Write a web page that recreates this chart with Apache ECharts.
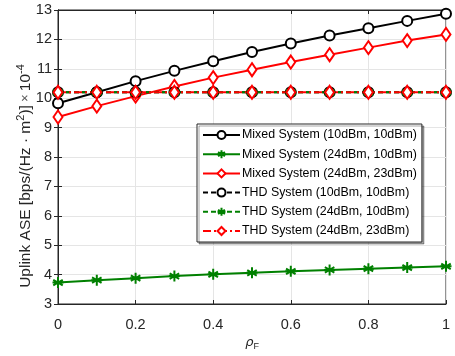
<!DOCTYPE html>
<html>
<head>
<meta charset="utf-8">
<script src="https://cdn.jsdelivr.net/npm/echarts@6/dist/echarts.min.js"></script>
<style>
  html, body { margin: 0; padding: 0; background: #fff; }
  #chart { width: 455px; height: 356px; }
</style>
</head>
<body>
<div id="chart"></div>
<script>
// rho_F values on the x axis
const rhoF = [0, 0.1, 0.2, 0.3, 0.4, 0.5, 0.6, 0.7, 0.8, 0.9, 1];

// uplink ASE (x 10^-4)
const mixed10_10 = [9.83, 10.2, 10.58, 10.93, 11.26, 11.57, 11.86, 12.13, 12.38, 12.63, 12.87];
const mixed24_10 = [3.73, 3.81, 3.88, 3.95, 4.01, 4.06, 4.11, 4.16, 4.2, 4.24, 4.28];
const mixed24_23 = [9.36, 9.73, 10.07, 10.4, 10.7, 10.97, 11.23, 11.48, 11.72, 11.96, 12.17];
const thd10_10 = [10.2, 10.2, 10.2, 10.2, 10.2, 10.2, 10.2, 10.2, 10.2, 10.2, 10.2];
const thd24_10 = [10.2, 10.2, 10.2, 10.2, 10.2, 10.2, 10.2, 10.2, 10.2, 10.2, 10.2];
const thd24_23 = [10.2, 10.2, 10.2, 10.2, 10.2, 10.2, 10.2, 10.2, 10.2, 10.2, 10.2];

const xTicks = [0, 0.2, 0.4, 0.6, 0.8, 1];
const yTicks = [3, 4, 5, 6, 7, 8, 9, 10, 11, 12, 13];

const names = [
  'Mixed System (10dBm, 10dBm)',
  'Mixed System (24dBm, 10dBm)',
  'Mixed System (24dBm, 23dBm)',
  'THD System (10dBm, 10dBm)',
  'THD System (24dBm, 10dBm)',
  'THD System (24dBm, 23dBm)'
];

const asterisk = 'path://M0,-5L0,5M-4.33,-2.5L4.33,2.5M-4.33,2.5L4.33,-2.5M-5,0L5,0';

function pairs(ys) {
  return rhoF.map((x, i) => [x, ys[i]]);
}

function makeSeries(name, ys, color, symbol, lineType, size) {
  const isStar = symbol === asterisk;
  return {
    name: name,
    type: 'line',
    data: pairs(ys),
    symbol: symbol,
    symbolSize: size,
    showSymbol: true,
    showAllSymbol: true,
    lineStyle: { color: color, width: 2, type: lineType },
    itemStyle: {
      color: color,
      borderColor: color,
      borderWidth: isStar ? 2 : 1.6
    },
    emphasis: { disabled: true },
    animation: false
  };
}

const chart = echarts.init(document.getElementById('chart'), null, { renderer: 'canvas' });

const tickColor = '#262626';
const font = 'Liberation Sans, Arial, sans-serif';
const labelFont = { color: '#262626', fontSize: 14.5, fontFamily: font };

chart.setOption({
  backgroundColor: '#fff',
  animation: false,
  grid: {
    left: 58, right: 9, top: 10, bottom: 46,
    show: true, borderColor: tickColor, borderWidth: 1
  },
  legend: {
    orient: 'vertical',
    left: 197, top: 124,
    itemWidth: 37, itemHeight: 10, itemGap: 7.2,
    padding: [5, 5, 5, 5],
    backgroundColor: '#fff',
    borderColor: '#262626', borderWidth: 1,
    shadowColor: 'rgba(0,0,0,0.35)', shadowOffsetX: 2, shadowOffsetY: 2, shadowBlur: 0,
    textStyle: { color: '#000', fontSize: 12.4, fontFamily: font, padding: [0, 0, 0, -3] },
    data: names
  },
  xAxis: [{
    type: 'value', min: 0, max: 1, interval: 0.2,
    name: '{r|ρ}{s|F}',
    nameLocation: 'middle', nameGap: 30, nameMoveOverlap: false,
    nameTextStyle: {
      rich: {
        r: { fontSize: 13, color: '#262626', fontFamily: 'DejaVu Sans', fontStyle: 'italic' },
        s: { fontSize: 9, color: '#262626', fontFamily: font, padding: [8, 0, 0, 0] }
      }
    },
    axisLine: { lineStyle: { color: tickColor } },
    axisTick: { inside: true, length: 4, lineStyle: { color: tickColor } },
    axisLabel: Object.assign({ margin: 13, formatter: v => String(+v.toFixed(1)) }, labelFont),
    splitLine: { show: true, lineStyle: { color: '#e5e5e5', width: 1 } }
  }, {
    type: 'value', min: 0, max: 1, interval: 0.2, position: 'top',
    axisLine: { show: true, lineStyle: { color: tickColor } },
    axisTick: { inside: true, length: 4, lineStyle: { color: tickColor } },
    axisLabel: { show: false }, splitLine: { show: false }
  }],
  yAxis: [{
    type: 'value', min: 3, max: 13, interval: 1,
    name: '{t|Uplink ASE [bps/(Hz · m}{sup|2}{t|)]} {x|×} {t|10}{sup|-4}',
    nameLocation: 'middle', nameGap: 22, nameMoveOverlap: false,
    nameTextStyle: {
      padding: [0, 38, 0, 0],
      rich: {
        t: { color: '#262626', fontSize: 15.5, fontFamily: font },
        x: { color: '#555', fontSize: 12.5, fontFamily: font },
        sup: { color: '#262626', fontSize: 11, fontFamily: font, padding: [0, 0, 10, 0] }
      }
    },
    axisLine: { lineStyle: { color: tickColor } },
    axisTick: { inside: true, length: 4, lineStyle: { color: tickColor } },
    axisLabel: Object.assign({ margin: 6 }, labelFont),
    splitLine: { show: true, lineStyle: { color: '#e5e5e5', width: 1 } }
  }, {
    type: 'value', min: 3, max: 13, interval: 1, position: 'right',
    axisLine: { show: true, lineStyle: { color: tickColor } },
    axisTick: { inside: true, length: 4, lineStyle: { color: tickColor } },
    axisLabel: { show: false }, splitLine: { show: false }
  }],
  series: [
    makeSeries(names[0], mixed10_10, '#000000', 'emptyCircle', 'solid', 10),
    makeSeries(names[1], mixed24_10, '#008000', asterisk, 'solid', 11),
    makeSeries(names[2], mixed24_23, '#ff0000', 'emptyDiamond', 'solid', [9, 13]),
    makeSeries(names[3], thd10_10, '#000000', 'emptyCircle', [5, 3], 10),
    makeSeries(names[4], thd24_10, '#008000', asterisk, [5, 3], 11),
    makeSeries(names[5], thd24_23, '#ff0000', 'emptyDiamond', [8, 3, 2, 3], [9, 13])
  ]
});
</script>
</body>
</html>
